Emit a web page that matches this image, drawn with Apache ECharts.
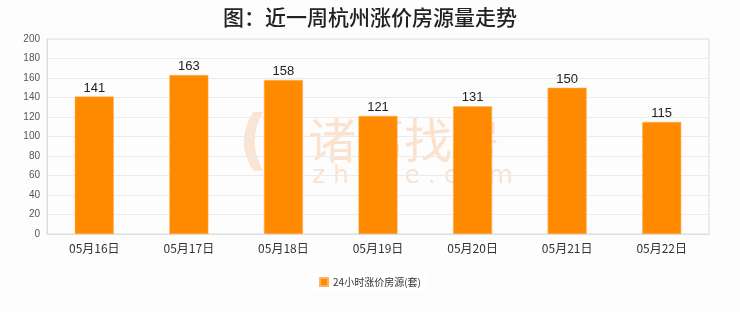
<!DOCTYPE html>
<html><head><meta charset="utf-8">
<script src="https://cdn.jsdelivr.net/npm/echarts@6/dist/echarts.min.js"></script>
<style>html,body{margin:0;padding:0;background:#fdfdfd}#c{width:740px;height:312px}</style>
</head><body><div id="c"></div>
<script>
var categories = ['05月16日','05月17日','05月18日','05月19日','05月20日','05月21日','05月22日'];
var values = [141,163,158,121,131,150,115];
var seriesName = '24小时涨价房源(套)';
var titleText = '图：近一周杭州涨价房源量走势';

var chart = echarts.init(document.getElementById('c'));
chart.setOption({
  backgroundColor: '#fdfdfd',
  animation: false,
  title: {text: titleText, left: 'center', top: 2,
    textStyle: {fontSize: 21, fontWeight: 500, color: '#222', fontFamily: 'Noto Sans CJK SC'}},
  graphic: [
    {type: 'text', z: -1, left: 308, top: 116, silent: true,
      style: {text: '诸葛找房', fill: 'rgba(245,170,110,0.32)', font: '48px "Noto Sans CJK SC"'}},
    {type: 'text', z: -1, left: 312, top: 164, silent: true,
      style: {text: 'z h u g e . c o m', fill: 'rgba(245,170,110,0.32)', font: '25px "DejaVu Sans"'}},
    {type: 'text', z: -1, left: 238, top: 112, silent: true,
      style: {text: '((', fill: 'rgba(245,170,110,0.28)', font: 'bold 66px "DejaVu Sans"'}}
  ],
  legend: {bottom: 21, left: 'center', itemWidth: 8, itemHeight: 8, icon: 'rect',
    backgroundColor: '#ffffff', padding: [4, 6],
    textStyle: {fontSize: 10, color: '#333', fontFamily: 'Noto Sans CJK SC'}},
  grid: {left: 47, right: 31, top: 39, bottom: 78, show: true, borderColor: '#dddddd', borderWidth: 1, backgroundColor: 'transparent'},
  xAxis: {type: 'category', data: categories,
    axisLine: {lineStyle: {color: '#dddddd'}}, axisTick: {show: false},
    axisLabel: {color: '#333', fontSize: 12, margin: 8, fontFamily: 'Noto Sans CJK SC'}},
  yAxis: {type: 'value', min: 0, max: 200, interval: 20,
    axisLine: {show: true, lineStyle: {color: '#dddddd'}}, axisTick: {show: false},
    splitLine: {lineStyle: {color: '#ebebeb'}},
    axisLabel: {color: '#555', fontSize: 10, margin: 7}},
  series: [{name: seriesName, type: 'bar', data: values, barWidth: 39, z: 5,
    itemStyle: {color: '#ff8a00', borderColor: '#ffb060', borderWidth: 0.5},
    label: {show: true, position: 'top', color: '#222', fontSize: 13, distance: 2}}]
});
</script></body></html>
